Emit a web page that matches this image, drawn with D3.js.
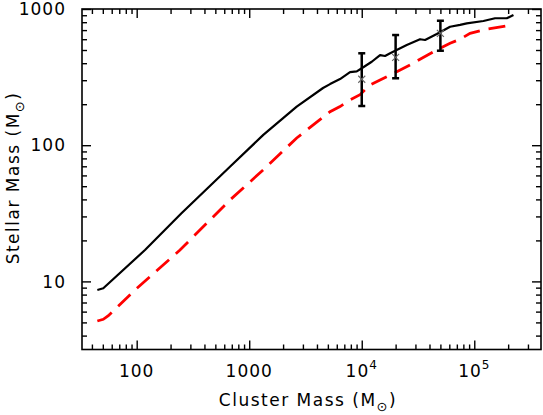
<!DOCTYPE html>
<html><head><meta charset="utf-8">
<script src="https://cdn.jsdelivr.net/npm/d3@7"></script>
<style>
body{margin:0;background:#fff}
text{font-family:"DejaVu Sans",sans-serif;fill:#000}
</style>
</head><body><svg id="c" width="543" height="415"></svg>
<script>
// Solid black curve
const blackMass    = [44.7, 50.5, 118.5, 250, 674, 1334, 2643, 4529, 5227, 6412, 7870, 9030, 10000, 12270, 14550, 16110, 17870, 25120, 32960, 36530, 46420, 60950, 74800, 85750, 120500, 153000, 194500, 223000];
const blackStellar = [8.65, 8.9, 17.0, 31.6, 69.5, 119, 192, 263, 281, 306, 344, 348, 367, 410, 459, 452, 473, 544, 600, 592, 655, 741, 764, 785, 816, 855, 855, 904];
// Dashed red curve
const redMass    = [44.7, 50.5, 56, 96.6, 242.6, 674, 1330, 2643, 5227, 6412, 7870, 9660, 11860, 14550, 19100, 26850, 32960, 46420, 60950, 74800, 91800, 129000, 194500, 215500];
const redStellar = [5.12, 5.27, 5.6, 8.65, 17.0, 39.6, 65.8, 113, 176, 192, 215, 235, 277, 301, 337, 388, 428, 500, 560, 600, 663, 710, 753, 798];
// Error-bar points
const errMass = [1e4, 2e4, 5e4];
const errMid  = [305, 442, 663];
const errLow  = [194, 310, 494];
const errHigh = [473, 644, 820];
// Tick labels
const xTickValues = [100, 1000, 1e4, 1e5];
const xTickBase   = ["100", "1000", "10", "10"];
const xTickExp    = ["", "", "4", "5"];
const yTickValues = [10, 100, 1000];
const yTickLabels = ["10", "100", "1000"];

const L = 82, R = 541, T = 9, B = 349.5;
const x = d3.scaleLog().domain([Math.pow(10,1.514), Math.pow(10,5.593)]).range([L, R]);
const y = d3.scaleLog().domain([Math.pow(10,0.5), 1000]).range([B, T]);
const svg = d3.select("#c");

svg.append("defs").append("clipPath").attr("id","clp")
  .append("rect").attr("x",L).attr("y",T).attr("width",R-L).attr("height",B-T);

const line = d3.line().x(d=>x(d[0])).y(d=>y(d[1]));
const g = svg.append("g").attr("clip-path","url(#clp)");
g.append("path").datum(redMass.map((m,i)=>[m,redStellar[i]]))
  .attr("d",line).attr("fill","none").attr("stroke","#ff0000")
  .attr("stroke-width",2.8).attr("stroke-dasharray","17,9");
g.append("path").datum(blackMass.map((m,i)=>[m,blackStellar[i]]))
  .attr("d",line).attr("fill","none").attr("stroke","#000")
  .attr("stroke-width",2.2).attr("stroke-linejoin","round");

// error bars
const eb = svg.append("g").attr("stroke","#000").attr("stroke-width",2.5);
errMass.forEach((m,i)=>{
  const cx = x(m);
  eb.append("line").attr("x1",cx).attr("x2",cx).attr("y1",y(errLow[i])).attr("y2",y(errHigh[i]));
  eb.append("line").attr("x1",cx-3.5).attr("x2",cx+3.5).attr("y1",y(errLow[i])).attr("y2",y(errLow[i]));
  eb.append("line").attr("x1",cx-3.5).attr("x2",cx+3.5).attr("y1",y(errHigh[i])).attr("y2",y(errHigh[i]));
});
const cr = svg.append("g").attr("stroke","#666").attr("stroke-width",1.1);
errMass.forEach((m,i)=>{
  const cx = x(m), cy = y(errMid[i]), s = 3.5;
  cr.append("line").attr("x1",cx-s).attr("x2",cx+s).attr("y1",cy-s).attr("y2",cy+s);
  cr.append("line").attr("x1",cx-s).attr("x2",cx+s).attr("y1",cy+s).attr("y2",cy-s);
});

// axes ticks (inward on all four sides)
const xMinor = x.ticks().filter(v=>!xTickValues.some(t=>Math.abs(t-v)<1e-6*t));
const yMinor = y.ticks().filter(v=>!yTickValues.some(t=>Math.abs(t-v)<1e-6*t));
function ax(gen, vals, size, tr){
  const a = svg.append("g").attr("transform",tr)
    .call(gen.tickValues(vals).tickSize(-size).tickFormat(""));
  a.select(".domain").remove();
  a.selectAll("line").attr("stroke","#000").attr("stroke-width",1.4);
}
ax(d3.axisBottom(x), xMinor, 5, `translate(0,${B})`);
ax(d3.axisBottom(x), xTickValues, 9, `translate(0,${B})`);
ax(d3.axisTop(x), xMinor, 5, `translate(0,${T})`);
ax(d3.axisTop(x), xTickValues, 9, `translate(0,${T})`);
ax(d3.axisLeft(y), yMinor, 5, `translate(${L},0)`);
ax(d3.axisLeft(y), yTickValues, 9, `translate(${L},0)`);
ax(d3.axisRight(y), yMinor, 5, `translate(${R},0)`);
ax(d3.axisRight(y), yTickValues, 9, `translate(${R},0)`);

svg.append("rect").attr("x",L).attr("y",T).attr("width",R-L).attr("height",B-T)
  .attr("fill","none").attr("stroke","#000").attr("stroke-width",1.6);

// tick labels
xTickValues.forEach((v,i)=>{
  const t = svg.append("text").attr("x",x(v)).attr("y",377)
    .attr("text-anchor","middle").attr("font-size",17).attr("letter-spacing",1);
  t.append("tspan").text(xTickBase[i]);
  if (xTickExp[i]) t.append("tspan").attr("dy",-8).attr("font-size",12).text(xTickExp[i]);
});
yTickValues.forEach((v,i)=>{
  svg.append("text").attr("x",66).attr("y",y(v)).attr("dy","0.36em")
    .attr("text-anchor","end").attr("font-size",17).attr("letter-spacing",1).text(yTickLabels[i]);
});

// axis titles
const xt = svg.append("text").attr("x",308).attr("y",406).attr("text-anchor","middle")
  .attr("font-size",17).attr("letter-spacing",1.5);
xt.append("tspan").text("Cluster Mass (M");
xt.append("tspan").attr("dy",5).attr("font-size",13).text("\u2299");
xt.append("tspan").attr("dy",-5).text(")");

const yt = svg.append("text").attr("transform","translate(19,178) rotate(-90)")
  .attr("text-anchor","middle").attr("font-size",17).attr("letter-spacing",1.5);
yt.append("tspan").text("Stellar Mass (M");
yt.append("tspan").attr("dy",5).attr("font-size",13).text("\u2299");
yt.append("tspan").attr("dy",-5).text(")");
</script></body></html>
